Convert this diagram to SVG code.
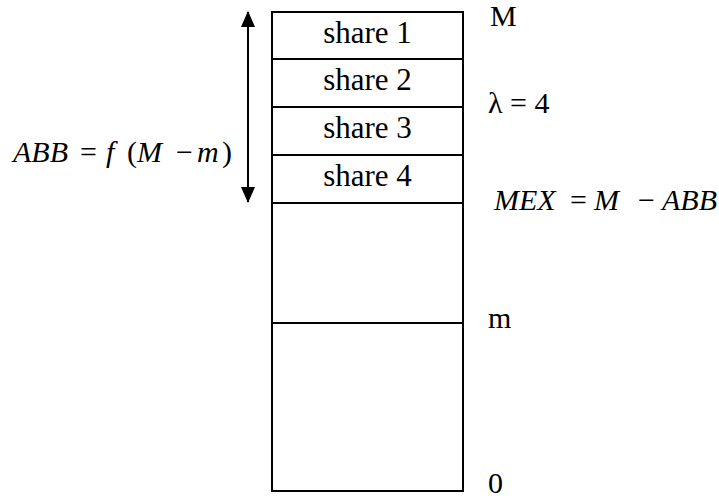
<svg xmlns="http://www.w3.org/2000/svg" width="719" height="500" viewBox="0 0 719 500">
<style>
text{font-family:"Liberation Serif","Times New Roman",serif;font-size:30px;fill:#000}
.it{font-style:italic}
.n{font-style:normal}
.c{text-anchor:middle;font-size:31px}
.box{fill:#fff;stroke:#000;stroke-width:2}
.ln{stroke:#000;stroke-width:2;fill:none}
</style>
<defs>
<marker id="ah" viewBox="0 0 16 14" refX="15" refY="7" markerWidth="16" markerHeight="14" markerUnits="userSpaceOnUse" orient="auto">
<path d="M0,0 L16,7 L0,14 Z" fill="#000"/>
</marker>
</defs>
<rect width="719" height="500" fill="#fff"/>
<g id="stack">
<rect class="box" x="272" y="12" width="191" height="479"/>
</g>
<g id="share1"><rect class="box" x="272" y="12" width="191" height="47"/><text class="c" x="367.5" y="43">share 1</text></g>
<g id="share2"><rect class="box" x="272" y="59" width="191" height="48"/><text class="c" x="367.5" y="90">share 2</text></g>
<g id="share3"><rect class="box" x="272" y="107" width="191" height="48"/><text class="c" x="367.5" y="138">share 3</text></g>
<g id="share4"><rect class="box" x="272" y="155" width="191" height="48"/><text class="c" x="367.5" y="186">share 4</text></g>
<g id="levels">
<line class="ln" x1="272" y1="323" x2="463" y2="323"/>
</g>
<g id="connectors">
<line class="ln" x1="248" y1="108" x2="248" y2="12" marker-end="url(#ah)"/>
<line class="ln" x1="248" y1="108" x2="248" y2="202" marker-end="url(#ah)"/>
</g>
<g id="labels">
<text x="490" y="26">M</text>
<text x="488" y="113">λ = 4</text>
<text x="488" y="328">m</text>
<text x="488" y="493">0</text>
<text class="it" x="13" y="162">ABB<tspan class="n" x="80">=</tspan><tspan x="106">f</tspan><tspan class="n" x="127">(</tspan><tspan x="137">M</tspan><tspan class="n" x="176">−</tspan><tspan x="197">m</tspan><tspan class="n" x="222">)</tspan></text>
<text class="it" x="494" y="210">MEX<tspan class="n" x="570">=</tspan><tspan x="594">M</tspan><tspan class="n" x="638">−</tspan><tspan x="662">ABB</tspan></text>
</g>
</svg>
